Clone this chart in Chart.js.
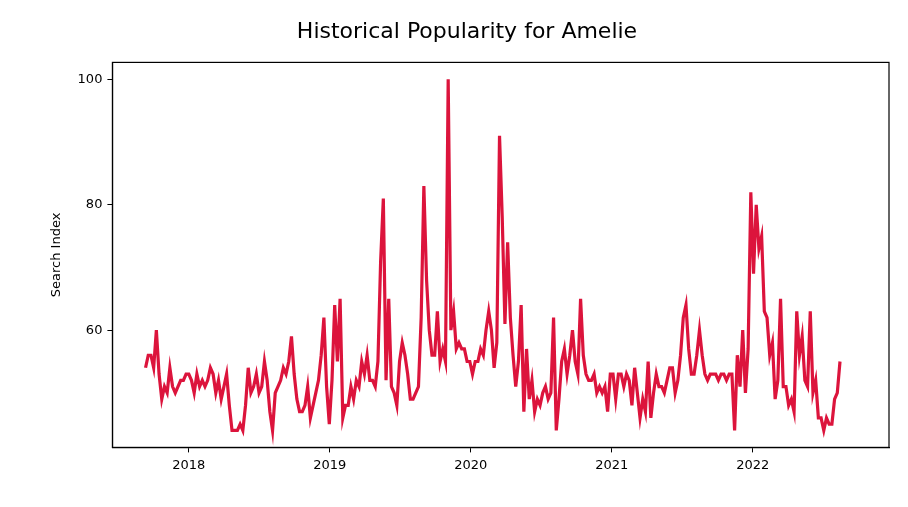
<!DOCTYPE html>
<html><head><meta charset="utf-8">
<script src="https://cdn.jsdelivr.net/npm/chart.js@4"></script>
<style>body{margin:0;background:#fff}</style>
</head><body>
<canvas id="c" width="908" height="507"></canvas>
<script>
// valori settimanali
const start = 2017.693;
const v2017 = [54,56,56,54,60,53,49,51,50,54,51,50,51,52,52,53];
const v2018 = [53,52,50,53,51,52,51,52,54,53,50,52,49,51,53,48,44,44,44,45,44,48,54,50,51,53,50,51,55,52,47,44,50,51,52,54,53,55,59,53,49,47,47,48,51,46,48,50,52,56,62,51];
const v2019 = [45,52,64,55,65,46,48,48,51,49,52,51,55,53,56,52,52,51,55,71,81,52,65,51,50,48,55,58,56,53,49,49,50,51,62,83,68,60,56,56,63,55,57,55,100,60,63,57,58,57,57,55];
const v2020 = [55,53,55,55,57,56,60,63,60,54,58,91,78,61,74,62,56,51,55,64,47,57,49,52,47,49,48,50,51,49,50,62,44,49,55,57,53,56,60,55,53,65,56,53,52,52,53,50,51,50,51,47];
const v2021 = [53,53,49,53,53,51,53,52,48,54,50,46,49,47,55,46,50,53,51,51,50,52,54,54,50,52,56,62,64,57,53,53,56,60,56,53,52,53,53,53,52,53,53,52,53,53,44,56,51,60,50,57];
const v2022 = [82,69,80,73,75,63,62,56,58,49,52,65,51,51,48,49,47,63,56,59,52,51,63,50,52,46,46,44,46,45,45,49,50,55];
const yTicks = [60,80,100];
const xTicks = [2018,2019,2020,2021,2022];

const values = [].concat(v2017, v2018, v2019, v2020, v2021, v2022);
const points = values.map((v, i) => ({x: start + i * 7 / 365.25, y: v}));

Chart.defaults.font.family = 'DejaVu Sans';
Chart.defaults.color = '#000';

new Chart(document.getElementById('c'), {
    type: 'line',
    data: {datasets: [{data: points, borderColor: '#DC143C', borderWidth: 3.2, pointRadius: 0, tension: 0}]},
    options: {
        responsive: false,
        animation: false,
        layout: {padding: {left: 45, right: 19, top: 0, bottom: 29}},
        plugins: {
            legend: {display: false},
            tooltip: {enabled: false},
            title: {display: true, text: 'Historical Popularity for Amelie', font: {size: 22, weight: 'normal'}, padding: {top: 19, bottom: 17}}
        },
        scales: {
            x: {
                type: 'linear', min: 2017.458, max: 2022.966,
                afterBuildTicks: s => { s.ticks = xTicks.map(v => ({value: v})); },
                ticks: {font: {size: 13}, padding: 5, callback: v => String(v)},
                grid: {drawOnChartArea: false, color: '#000', tickLength: 5},
                border: {color: '#000', width: 1.2}
            },
            y: {
                min: 41.3, max: 102.7,
                afterBuildTicks: s => { s.ticks = yTicks.map(v => ({value: v})); },
                ticks: {font: {size: 13}, padding: 5},
                grid: {drawOnChartArea: false, color: '#000', tickLength: 5},
                border: {color: '#000', width: 1.2},
                title: {display: true, text: 'Search Index', font: {size: 13}, padding: {bottom: 8}}
            }
        }
    },
    plugins: [{
        id: 'box',
        afterDraw(chart) {
            const {ctx, chartArea: a} = chart;
            ctx.save();
            ctx.strokeStyle = '#000';
            ctx.lineWidth = 1.2;
            ctx.strokeRect(a.left, a.top, a.right - a.left, a.bottom - a.top);
            ctx.restore();
        }
    }]
});
</script>
</body></html>
